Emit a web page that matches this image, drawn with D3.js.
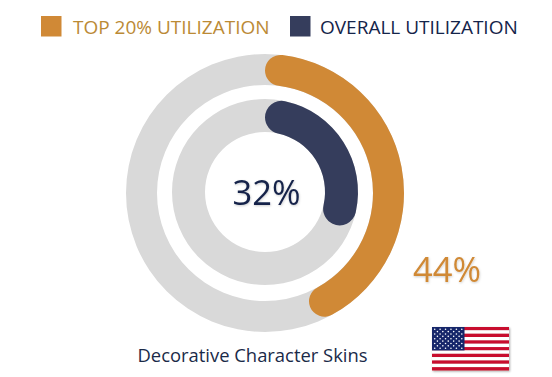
<!DOCTYPE html>
<html>
<head>
<meta charset="utf-8">
<script src="https://cdn.jsdelivr.net/npm/d3@7"></script>
<style>
html, body { margin: 0; padding: 0; background: #fff; }
svg { display: block; }
text { font-family: "Open Sans", sans-serif; }
</style>
</head>
<body>
<script>
var width = 552;
var height = 377;

var seriesNames = ["TOP 20% UTILIZATION", "OVERALL UTILIZATION"];
var seriesValues = [44, 32];
var seriesLabels = ["44%", "32%"];
var chartTitle = "Decorative Character Skins";
var flagStripes = [0,1,2,3,4,5,6,7,8,9,10,11,12];

var orange = "#d08936";
var navy = "#353d5c";
var track = "#d9d9d9";
var legendOrange = "#bb8a35";
var textNavy = "#14244a";

var svg = d3.select("body").append("svg")
    .attr("width", width)
    .attr("height", height);

var defs = svg.append("defs");
var shadow = defs.append("filter").attr("id", "flagShadow")
    .attr("x", "-10%").attr("y", "-10%").attr("width", "125%").attr("height", "130%");
shadow.append("feDropShadow")
    .attr("dx", 1).attr("dy", 1).attr("stdDeviation", 1.2)
    .attr("flood-color", "#000").attr("flood-opacity", 0.35);
var textShadow = defs.append("filter").attr("id", "textShadow")
    .attr("x", "-10%").attr("y", "-10%").attr("width", "125%").attr("height", "130%");
textShadow.append("feDropShadow")
    .attr("dx", 0.5).attr("dy", 1).attr("stdDeviation", 1.2)
    .attr("flood-color", "#000").attr("flood-opacity", 0.2);

var angle = d3.scaleLinear().domain([0, 100]).range([0, 2 * Math.PI]);

var rings = [
  { inner: 108, outer: 139, cy: 193, color: orange },
  { inner: 60, outer: 93, cy: 192, color: navy }
];

var g = svg.selectAll(".ring")
    .data(rings)
    .enter()
    .append("g")
    .attr("class", "ring")
    .attr("transform", function(d) { return "translate(265," + d.cy + ")"; });

// grey track
g.append("path")
    .attr("d", function(d) {
      return d3.arc().innerRadius(d.inner).outerRadius(d.outer)
        .startAngle(0).endAngle(2 * Math.PI)();
    })
    .attr("fill", track);

// value arc
g.append("path")
    .attr("d", function(d, i) {
      return d3.arc().innerRadius(d.inner).outerRadius(d.outer)
        .cornerRadius((d.outer - d.inner) / 2)
        .startAngle(0).endAngle(angle(seriesValues[i]))();
    })
    .attr("fill", function(d) { return d.color; });

// legend
var legendX = [41, 290];
var legendTextX = [73, 320];
var legendY = [16, 16];
var legendColors = [orange, navy];
var legendTextColors = [legendOrange, textNavy];

svg.selectAll(".swatch")
    .data(seriesNames)
    .enter()
    .append("rect")
    .attr("class", "swatch")
    .attr("x", function(d, i) { return legendX[i]; })
    .attr("y", function(d, i) { return legendY[i]; })
    .attr("width", 20.5)
    .attr("height", 20.5)
    .attr("fill", function(d, i) { return legendColors[i]; });

svg.selectAll(".legendText")
    .data(seriesNames)
    .enter()
    .append("text")
    .attr("class", "legendText")
    .attr("x", function(d, i) { return legendTextX[i]; })
    .attr("y", 34)
    .attr("font-size", 19)
    .attr("fill", function(d, i) { return legendTextColors[i]; })
    .text(function(d) { return d; });

// values
svg.append("text")
    .attr("x", 266.5).attr("y", 205)
    .attr("text-anchor", "middle")
    .attr("font-size", 34.5)
    .attr("fill", textNavy)
    .attr("filter", "url(#textShadow)")
    .text(seriesLabels[1]);

svg.append("text")
    .attr("x", 447).attr("y", 282)
    .attr("text-anchor", "middle")
    .attr("font-size", 34.5)
    .attr("fill", orange)
    .attr("filter", "url(#textShadow)")
    .text(seriesLabels[0]);

svg.append("text")
    .attr("x", 252.5).attr("y", 362)
    .attr("text-anchor", "middle")
    .attr("font-size", 18.4)
    .attr("fill", "#1a2a48")
    .text(chartTitle);

// flag
var flag = svg.append("g")
    .attr("transform", "translate(432,327)")
    .attr("filter", "url(#flagShadow)");
var flagW = 77, flagH = 43.5;
var stripeY = d3.scaleBand().domain(flagStripes).range([0, flagH]);
flag.selectAll(".stripe")
    .data(flagStripes)
    .enter()
    .append("rect")
    .attr("class", "stripe")
    .attr("x", 0)
    .attr("y", function(d) { return stripeY(d); })
    .attr("width", flagW)
    .attr("height", stripeY.bandwidth())
    .attr("fill", function(d) { return d % 2 ? "#fff" : "#c8102e"; });
flag.append("rect")
    .attr("width", 32.5)
    .attr("height", stripeY(7))
    .attr("fill", "#14266b");

var starRows = d3.range(9);
var starX = d3.scalePoint().domain(d3.range(11)).range([2.7, 29.8]);
var starY = d3.scalePoint().domain(starRows).range([2.2, 21.2]);
starRows.forEach(function(r) {
  d3.range(11).filter(function(c) { return (c + r) % 2 === 0; }).forEach(function(c) {
    flag.append("circle")
      .attr("cx", starX(c))
      .attr("cy", starY(r))
      .attr("r", 0.8)
      .attr("fill", "#fff");
  });
});
</script>
</body>
</html>
